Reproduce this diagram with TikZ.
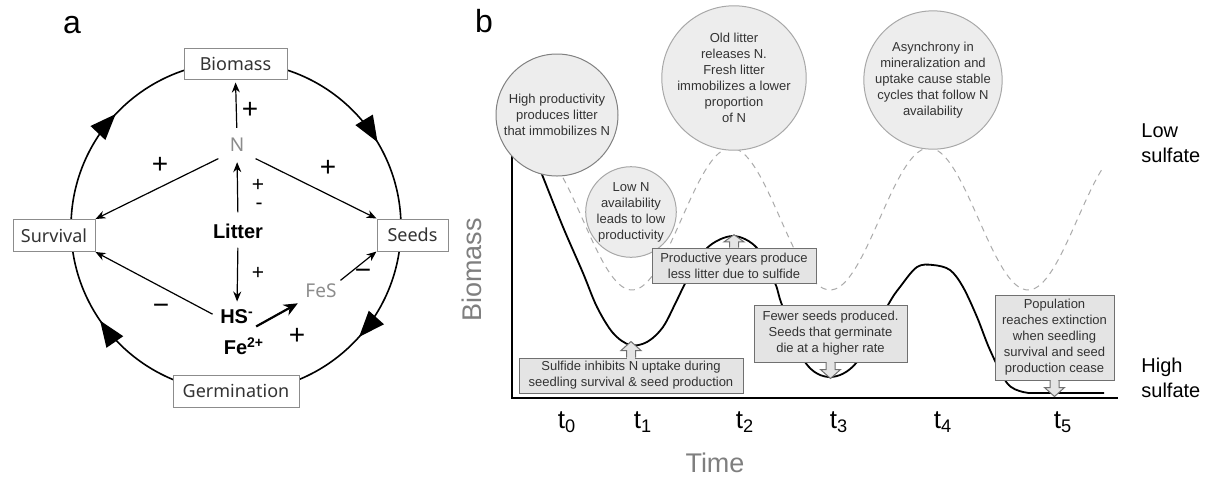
\documentclass[tikz,border=0pt]{standalone}
\usepackage{fontspec}
\setmainfont{Liberation Sans}
\newfontfamily\notosans{Noto Sans}
\usetikzlibrary{arrows.meta, decorations.markings, calc}
\definecolor{bubfill}{HTML}{EDEDED}
\definecolor{bubdraw}{HTML}{A8A8A8}
\definecolor{boxfill}{HTML}{E4E4E4}
\definecolor{boxdraw}{HTML}{707070}
\definecolor{txtgray}{HTML}{333333}
\definecolor{labgray}{HTML}{7F7F7F}
\definecolor{dashgray}{HTML}{AAAAAA}
\tikzset{
  abox/.style={draw=black!45, line width=0.5pt, fill=white, inner sep=0pt,
    font=\notosans\fontsize{9}{10}\selectfont, text=black!80},
  alab/.style={inner sep=1pt, font=\notosans\fontsize{9.5}{10}\selectfont},
  blab/.style={inner sep=1pt, font=\bfseries\fontsize{10}{10}\selectfont},
  sign/.style={inner sep=0pt, font=\fontsize{14}{14}\selectfont},
  smallsign/.style={inner sep=0pt, font=\fontsize{10.5}{10.5}\selectfont},
  link/.style={-{Stealth[length=5pt,width=4pt]}, line width=0.6pt},
  bubble/.style={circle, draw=bubdraw, fill=bubfill, line width=0.5pt, inner sep=0pt,
    align=center, font=\fontsize{6.5}{8}\selectfont, text=txtgray},
  callout/.style={draw=boxdraw, fill=boxfill, line width=0.5pt, inner sep=0pt,
    align=center, font=\fontsize{6.5}{8}\selectfont, text=txtgray},
  tlab/.style={inner sep=1pt, font=\fontsize{13}{13}\selectfont},
  bigtip/.tip={Triangle[length=13pt,width=10pt]},
  pics/callarr/.style={code={
    \draw[boxdraw, fill=boxfill, line width=0.5pt] (-4.5,0) -- (-4.5,-7) -- (-10,-7) -- (0,-16) -- (10,-7) -- (4.5,-7) -- (4.5,0);
    \fill[boxfill] (-3.9,1.2) rectangle (3.9,-0.5);
  }}
}
\begin{document}
\begin{tikzpicture}[x=0.5pt, y=-0.5pt]
\useasboundingbox (0,0) rectangle (1207,478);

% ---------------- panel a ----------------
\node[font=\fontsize{16}{16}\selectfont, inner sep=0pt] (la) at (72,25) {a};

\draw[line width=0.8pt, postaction=decorate, decoration={markings,
   mark=at position 0.164 with {\arrow{bigtip}},
   mark=at position 0.366 with {\arrow{bigtip}},
   mark=at position 0.654 with {\arrow{bigtip}},
   mark=at position 0.870 with {\arrow{bigtip}}}]
  (236,62) arc[start angle=90, end angle=-270, radius=82.5pt];

\node[abox, minimum width=51.5pt, minimum height=15.5pt] (Biomass) at (235.5,63.5) {Biomass};
\node[abox, minimum width=41pt, minimum height=16pt] (Survival) at (54,235.5) {Survival};
\node[abox, minimum width=35.5pt, minimum height=16pt] (Seeds) at (412.5,235) {Seeds};
\node[abox, minimum width=63pt, minimum height=16pt] (Germination) at (236,391) {Germination};

\node[alab, text=black!45] (N) at (237,145) {N};
\node[blab] (Litter) at (238,231) {Litter};
\node[blab] (HS) at (237,317) {HS\textsuperscript{-}};
\node[blab] (Fe) at (244,346) {Fe\textsuperscript{2+}};
\node[alab, text=black!45] (FeS) at (321,291) {FeS};

\draw[link, shorten <=4pt, shorten >=1.5pt] (N.north) -- (Biomass.south);
\draw[link, shorten <=4.5pt, shorten >=4pt] (Litter.north) -- (N.south);
\draw[link, shorten <=3.5pt, shorten >=3pt] (Litter.south) -- (HS.north);
\draw[link, shorten <=5pt] (N.south west) -- (Survival.north east);
\draw[link, shorten <=5pt] (N.south east) -- (Seeds.north west);
\draw[link, shorten <=3pt] (HS.west) -- (Survival.south east);
\draw[link, shorten <=1pt] (FeS.north east) -- (Seeds.south west);
\draw[-{Stealth[length=7pt,width=6pt]}, line width=1.1pt, shorten >=3pt] (HS.south east) -- (FeS.south west);

\node[sign] (s1) at (250,110) {+};
\node[sign] (s2) at (160,165) {+};
\node[sign] (s3) at (328,168) {+};
\node[smallsign] (s4) at (258,185) {+};
\node[smallsign] (s5) at (259,206) {-};
\node[smallsign] (s6) at (258,273) {+};
\node[sign] (s7) at (161,309) {\textminus};
\node[sign] (s8) at (297,336) {+};
\node[sign] (s9) at (363,274) {\textminus};

% ---------------- panel b ----------------
\node[font=\fontsize{16}{16}\selectfont, inner sep=0pt] (lb) at (484,21) {b};

\draw[line width=1pt] (512,150) -- (512,398) -- (1118,398);

\draw[dashgray, dash pattern=on 3pt off 2.5pt, line width=0.5pt, domain=563:1104, samples=140, smooth]
  plot (\x, {219+71*cos(1.818182*(\x-632))});

\draw[line width=0.9pt] plot[smooth, tension=0.55] coordinates {
 (538,165) (543,177) (563,227) (583,273) (597,307) (613,333) (630,345) (647,342) (663,327)
 (677,300) (687,280) (707,248) (733,236) (757,248) (775,283) (782,305) (805,362) (830,377)
 (857,362) (888,305) (900,287) (917,267) (933,265) (950,270) (963,287) (977,317) (990,350)
 (1007,383) (1023,392) (1040,393) (1104,393)};

\node[bubble, minimum size=61pt, draw=black!50] (B1) at (557,115)
  {High productivity\\produces litter\\that immobilizes N};
\node[bubble, minimum size=44pt] (B2) at (631,212)
  {Low N\\availability\\leads to low\\productivity};
\node[bubble, minimum size=63pt] (B3) at (734,78)
  {Old litter\\releases N.\\Fresh litter\\immobilizes a lower\\proportion\\of N};
\node[bubble, minimum size=61pt] (B4) at (933,80)
  {Asynchrony in\\mineralization and\\uptake cause stable\\cycles that follow N\\availability};

\node[callout, minimum width=112pt, minimum height=17.5pt] (C1) at (631,375.5)
  {Sulfide inhibits N uptake during\\seedling survival \& seed production};
\node[callout, minimum width=82pt, minimum height=17.5pt] (C2) at (734,265.5)
  {Productive years produce\\less litter due to sulfide};
\node[callout, minimum width=76.5pt, minimum height=28.5pt] (C3) at (830.5,333.5)
  {Fewer seeds produced.\\Seeds that germinate\\die at a higher rate};
\node[callout, minimum width=59.5pt, minimum height=42.5pt] (C4) at (1054.5,337.5)
  {Population\\reaches extinction\\when seedling\\survival and seed\\production cease};

\pic at (C1.north) {callarr};
\pic[yscale=0.8] at (C2.north) {callarr};
\pic[rotate=180] at (C3.south) {callarr};
\pic[rotate=180] at (C4.south) {callarr};

\node[rotate=90, text=labgray, font=\fontsize{13.5}{14}\selectfont] (ylab) at (472,270) {Biomass};
\node[text=labgray, font=\fontsize{13.5}{14}\selectfont] (xlab) at (715,463) {Time};

\node[tlab] (t0) at (567,422) {t\textsubscript{0}};
\node[tlab] (t1) at (643,422) {t\textsubscript{1}};
\node[tlab] (t2) at (745,422) {t\textsubscript{2}};
\node[tlab] (t3) at (839,422) {t\textsubscript{3}};
\node[tlab] (t4) at (943,422) {t\textsubscript{4}};
\node[tlab] (t5) at (1063,422) {t\textsubscript{5}};

\node[anchor=west, align=left, inner sep=0pt, font=\fontsize{10}{12.5}\selectfont] (low) at (1141,143) {Low\\sulfate};
\node[anchor=west, align=left, inner sep=0pt, font=\fontsize{10}{12.5}\selectfont] (high) at (1141,378) {High\\sulfate};
\end{tikzpicture}
\end{document}
